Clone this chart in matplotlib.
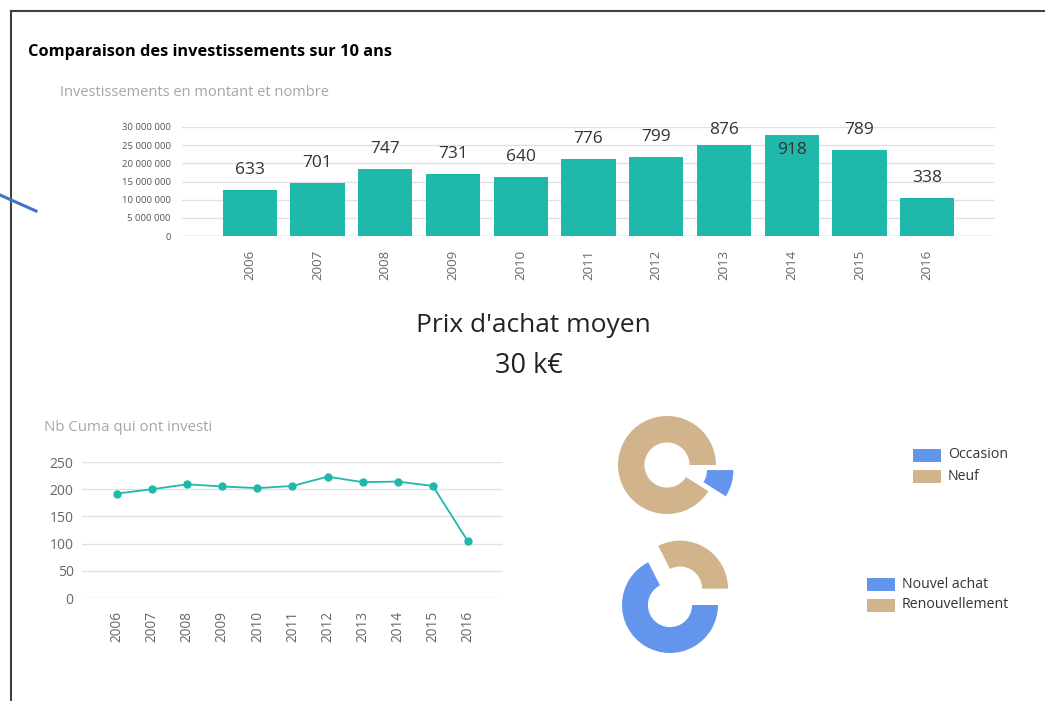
import numpy as np
import matplotlib
matplotlib.use('Agg')
import matplotlib.pyplot as plt
from matplotlib.lines import Line2D
from matplotlib.patches import Rectangle

plt.rcParams['font.family'] = ['Open Sans', 'DejaVu Sans']

annees = ['2006', '2007', '2008', '2009', '2010', '2011', '2012', '2013', '2014', '2015', '2016']
montant = [12.7e6, 14.5e6, 18.5e6, 17.1e6, 16.3e6, 21.1e6, 21.8e6, 25.1e6, 27.7e6, 23.6e6, 10.4e6]
nombre = [633, 701, 747, 731, 640, 776, 799, 876, 918, 789, 338]
nb_cuma = [192, 200, 209, 205, 202, 206, 223, 213, 214, 206, 104]

etat_labels = ['Occasion', 'Neuf']
etat_valeurs = [9, 91]
type_labels = ['Nouvel achat', 'Renouvellement']
type_valeurs = [67.5, 32.5]

W, H = 1045, 701
teal = '#1FB8AA'
bleu = '#6495ED'
beige = '#D2B48C'
grille = '#E1E1E1'
gris = '#666666'


def px(x0, y0, x1, y1):
    # rectangle en pixels (haut gauche) -> coordonnees figure
    return [x0 / W, 1 - y1 / H, (x1 - x0) / W, (y1 - y0) / H]


fig = plt.figure(figsize=(W / 100, H / 100), dpi=100)

# cadre et trait bleu
fig.add_artist(Line2D([11 / W, 11 / W], [0, 1 - 11 / H], color='#404040', lw=1.5))
fig.add_artist(Line2D([11 / W, 1], [1 - 11 / H, 1 - 11 / H], color='#404040', lw=1.5))
fig.add_artist(Line2D([0, 36 / W], [1 - 195 / H, 1 - 211 / H], color='#4472C4', lw=2.2))

fig.text(28 / W, 1 - 52 / H, 'Comparaison des investissements sur 10 ans',
         fontsize=11.8, fontweight='bold', color='black', va='center')
fig.text(60 / W, 1 - 93 / H, 'Investissements en montant et nombre',
         fontsize=10.5, color='#A6A6A6', va='center')

# --- histogramme
x = np.arange(len(annees))
ax = fig.add_axes(px(182, 127, 995, 236))
ax.bar(x, montant, width=0.8, color=teal, zorder=2)
ax.set_xlim(-1, 11)
ax.set_ylim(0, 30e6)
ax.set_yticks(np.arange(0, 30e6 + 1, 5e6))
ax.set_yticklabels(['0' if v == 0 else f'{int(v):,}'.replace(',', ' ') for v in np.arange(0, 30e6 + 1, 5e6)])
ax.set_xticks(x)
ax.set_xticklabels(annees, rotation=90)
ax.tick_params(axis='y', length=0, pad=8, labelsize=6.8, labelcolor='#555555')
ax.tick_params(axis='x', length=0, pad=10, labelsize=9.5, labelcolor=gris)
ax.grid(axis='y', color=grille, lw=1, zorder=0)
ax.axhline(0, color='#D8D8D8', lw=1, zorder=1)
for s in ax.spines.values():
    s.set_visible(False)
for i in range(len(annees)):
    yl = min(montant[i] + 5.5e6, 29.2e6)
    if yl - montant[i] < 2.5e6:
        yl = montant[i] - 4.1e6
    ax.text(x[i], yl, str(nombre[i]), ha='center', va='center', fontsize=12.5, color='#333333', zorder=3)

fig.text(533 / W, 1 - 326 / H, "Prix d'achat moyen", fontsize=19, color='#222222', ha='center', va='center')
fig.text(529 / W, 1 - 366 / H, '30 k€', fontsize=19.5, color='#222222', ha='center', va='center')

# --- courbe
fig.text(44 / W, 1 - 428 / H, 'Nb Cuma qui ont investi', fontsize=10.8, color='#A6A6A6', va='center')
ax2 = fig.add_axes(px(82, 462, 503, 598))
ax2.plot(x, nb_cuma, color=teal, lw=1.3, marker='o', markersize=5, zorder=3)
ax2.set_xlim(-1, 11)
ax2.set_ylim(0, 250)
ax2.set_yticks(range(0, 251, 50))
ax2.set_xticks(x)
ax2.set_xticklabels(annees, rotation=90)
ax2.tick_params(axis='y', length=0, pad=6, labelsize=10, labelcolor=gris)
ax2.tick_params(axis='x', length=0, pad=9, labelsize=9.8, labelcolor=gris)
ax2.grid(axis='y', color=grille, lw=1, zorder=0)
for s in ax2.spines.values():
    s.set_visible(False)


# --- anneaux
def anneau(cx, cy, r, valeurs, couleurs, explode):
    half = 90
    a = fig.add_axes(px(cx - half, cy - half, cx + half, cy + half))
    a.pie(valeurs, colors=couleurs, startangle=0, counterclock=False, explode=explode,
          wedgeprops=dict(width=0.54, linewidth=0))
    a.set_xlim(-half / r, half / r)
    a.set_ylim(-half / r, half / r)
    a.set_aspect('equal')
    a.axis('off')


def legende(x0, y0, labels, couleurs):
    for k, (lab, c) in enumerate(zip(labels, couleurs)):
        yc = y0 + k * 21
        fig.add_artist(Rectangle((x0 / W, 1 - (yc + 6.5) / H), 28 / W, 13 / H,
                                 transform=fig.transFigure, color=c, lw=0))
        fig.text((x0 + 35) / W, 1 - yc / H, lab, fontsize=10.2, color='#333333', va='center')


anneau(667, 465, 49, etat_valeurs, [bleu, beige], [0.37, 0])
legende(913, 455, etat_labels, [bleu, beige])
anneau(670, 605, 48, type_valeurs, [bleu, beige], [0, 0.4])
legende(867, 584, type_labels, [bleu, beige])

fig.savefig('out.png', dpi=100)
